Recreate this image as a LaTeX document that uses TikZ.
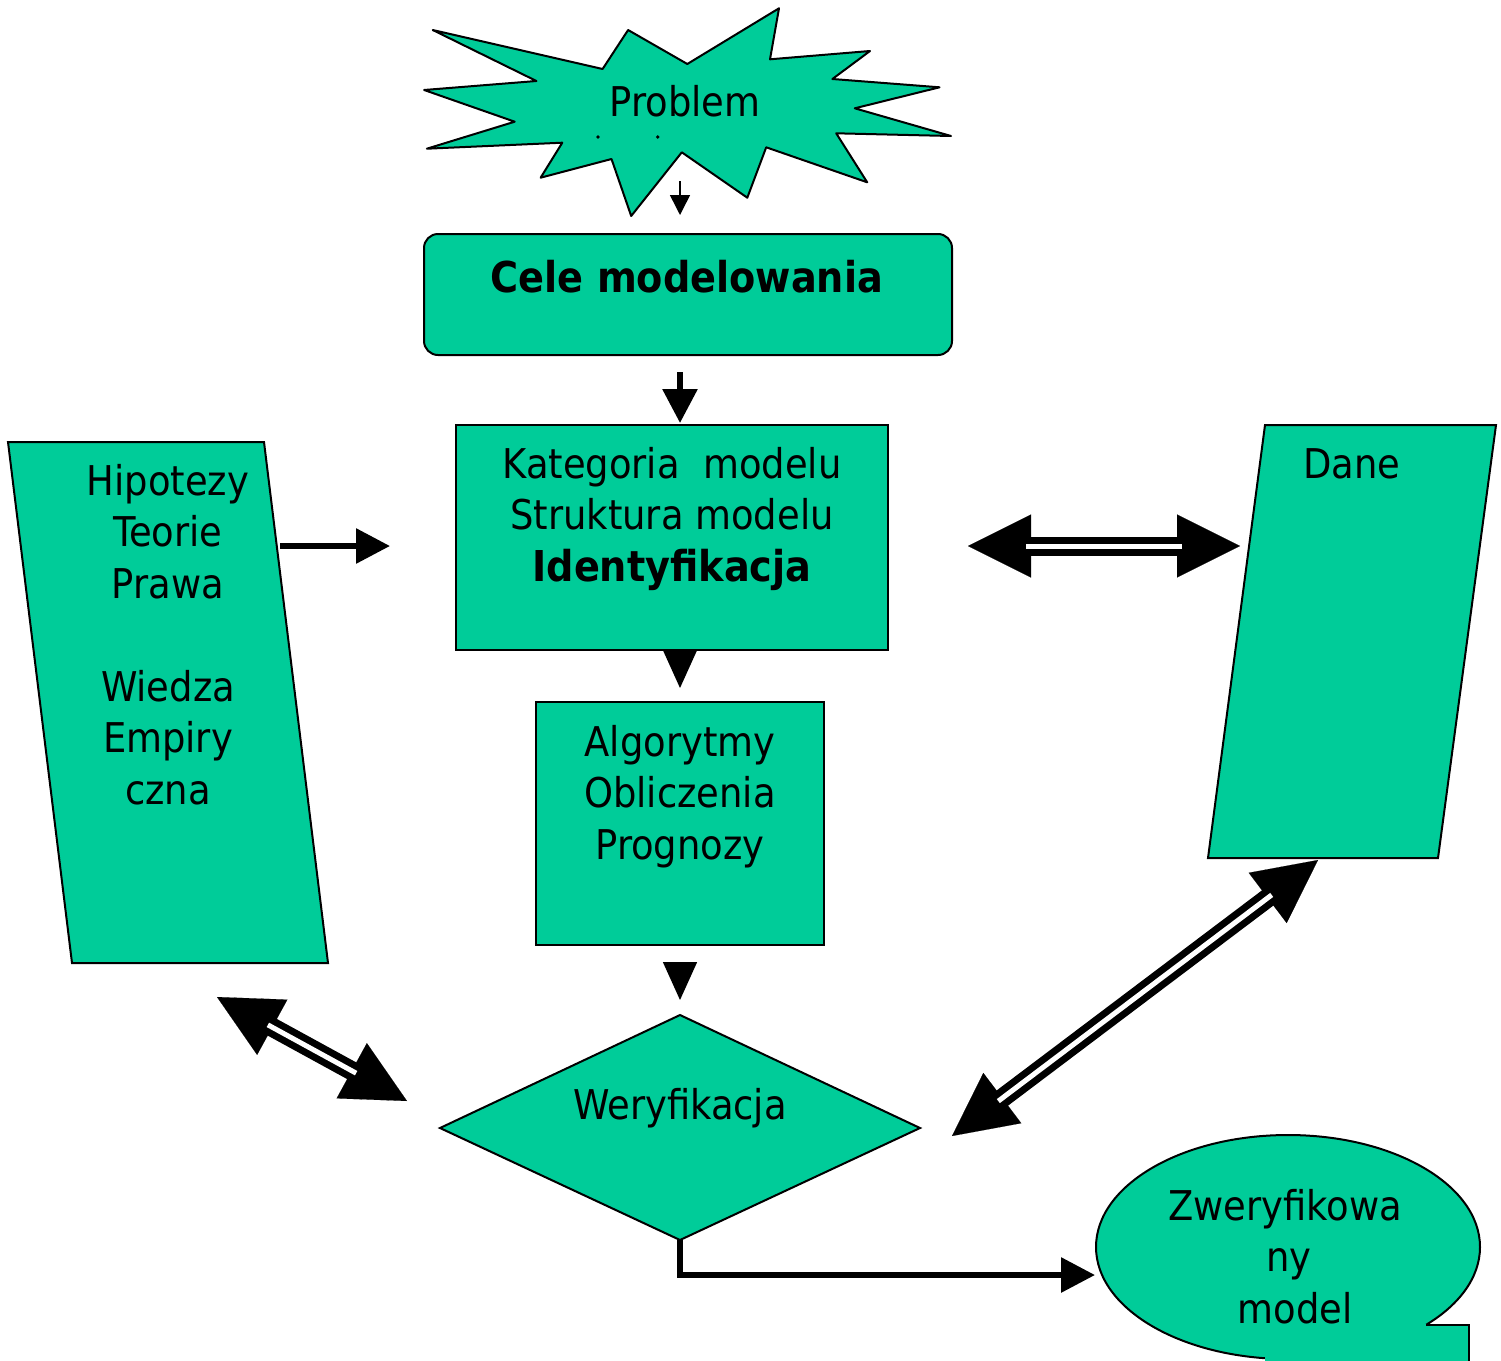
\documentclass[tikz,border=0pt]{standalone}
\usepackage{fontspec}
\setmainfont{DejaVu Sans Condensed}
\usetikzlibrary{arrows.meta}
\definecolor{shapefill}{RGB}{0,204,153}
\begin{document}
\begin{tikzpicture}[x=1pt,y=-1pt,
  shapeline/.style={draw=black, line width=2pt, fill=shapefill, line join=miter},
  lbl/.style={font=\fontsize{41}{51.5}\selectfont, align=center, inner sep=0pt, outer sep=0pt},
  heavyarrow/.style={line width=6pt, -{Triangle[length=34pt,width=34pt]}},
  thinarrow/.style={line width=1.5pt, -{Triangle[length=20pt,width=20pt]}},
  headonly/.style={line width=1.5pt, -{Triangle[length=38pt,width=34pt]}},
  bigheads/.style={line width=0.1pt, {Triangle[length=63pt,width=63pt]}-{Triangle[length=63pt,width=63pt]}},
  shaftblack/.style={line width=19pt, shorten <=60pt, shorten >=60pt},
  shaftwhite/.style={white, line width=5pt, shorten <=58pt, shorten >=58pt}
]
\useasboundingbox (0,0) rectangle (1501,1360);
\clip (0,0) rectangle (1501,1360);

% starburst
\draw[shapeline, line join=round] (432.7,30) -- (602.6,69) -- (628.1,30) -- (687.3,64) -- (779,8.3) -- (770,59.3)
  -- (870,51) -- (832.4,79) -- (939.5,87.3) -- (854.8,108.3) -- (951,136) -- (836.2,133.3)
  -- (867.2,182.3) -- (766.2,147.3) -- (747.3,197.7) -- (681.8,152.3) -- (631.2,216)
  -- (611.5,159) -- (540.6,177.7) -- (562.3,142.7) -- (426.9,148.7) -- (514.7,121.7)
  -- (424.1,90) -- (536.4,81) -- cycle;
\fill (598,137) circle (1.8);
\fill (657.7,137) circle (1.8);
\node[lbl, anchor=base] (problem) at (685,116) {Problem};

% Cele modelowania
\draw[shapeline, rounded corners=14pt] (424,234) rectangle (952,355);
\node[lbl, anchor=base, font=\fontsize{42.5}{51.5}\selectfont\bfseries] (cele) at (687,292) {Cele modelowania};

% Kategoria box
\draw[shapeline] (456,425) rectangle (888,650);
\node[lbl, anchor=north] (kat) at (672,447) {Kategoria~~modelu\\Struktura modelu\\{\fontsize{42.5}{51.5}\selectfont\bfseries Identyfikacja}};

% Algorytmy box
\draw[shapeline] (536,702) rectangle (824,945);
\node[lbl, anchor=north] (alg) at (680,725) {Algorytmy\\Obliczenia\\Prognozy};

% Hipotezy parallelogram
\draw[shapeline] (8,442) -- (264,442) -- (328,963) -- (72,963) -- cycle;
\node[lbl, anchor=north] (hip) at (168,464) {Hipotezy\\Teorie\\Prawa\\[51.5pt]Wiedza\\Empiry\\czna};

% Dane parallelogram
\draw[shapeline] (1265,425) -- (1496,425) -- (1438,858) -- (1208,858) -- cycle;
\node[lbl, anchor=base] (dane) at (1352,478) {Dane};

% Weryfikacja diamond
\draw[shapeline] (440,1128) -- (680,1015) -- (920,1128) -- (680,1240) -- cycle;
\node[lbl, anchor=base] (wer) at (680,1119) {Weryfikacja};

% Zweryfikowany model callout
\draw[shapeline] (1288,1247) ellipse [x radius=192, y radius=112];
\fill[shapefill] (1425,1324) -- (1469,1324) -- (1469,1420) -- (1265,1420) -- (1265,1357) -- cycle;
\draw[line width=2pt, line join=miter] (1426,1325) -- (1469,1325) -- (1469,1420);
\node[lbl, anchor=north] (zwer) at (1285,1189) {Zweryfikowa\\\hspace*{8pt}ny\\\hspace*{20pt}model};

% connector coordinates
\coordinate (pb) at (680,181);
\coordinate (pbe) at (680,215);
\coordinate (ce) at (680,372);
\coordinate (cee) at (680,423);
\coordinate (ka) at (680,650);
\coordinate (kae) at (680,688);
\coordinate (al) at (680,962);
\coordinate (ale) at (680,1000);
\coordinate (hr) at (280,546);
\coordinate (hre) at (390,546);
\coordinate (dl) at (968,546);
\coordinate (dr) at (1240,546);
\coordinate (hl1) at (217,997);
\coordinate (hl2) at (407,1101);
\coordinate (wr1) at (952,1136);
\coordinate (wr2) at (1318,860);
\coordinate (wb) at (680,1240);
\coordinate (zl) at (1095,1275);

% arrows
\draw[thinarrow] (pb) -- (pbe);
\draw[heavyarrow] (ce) -- (cee);
\draw[headonly] (ka) -- (kae);
\draw[headonly] (al) -- (ale);
\draw[heavyarrow] (hr) -- (hre);
\draw[line width=6pt, line join=miter, -{Triangle[length=34pt,width=34pt]}] (wb) |- (zl);

% double arrows
\foreach \a/\b in {dl/dr, hl1/hl2, wr1/wr2}{
  \draw[bigheads] (\a) -- (\b);
  \draw[shaftblack] (\a) -- (\b);
  \draw[shaftwhite] (\a) -- (\b);
}
\end{tikzpicture}
\end{document}
